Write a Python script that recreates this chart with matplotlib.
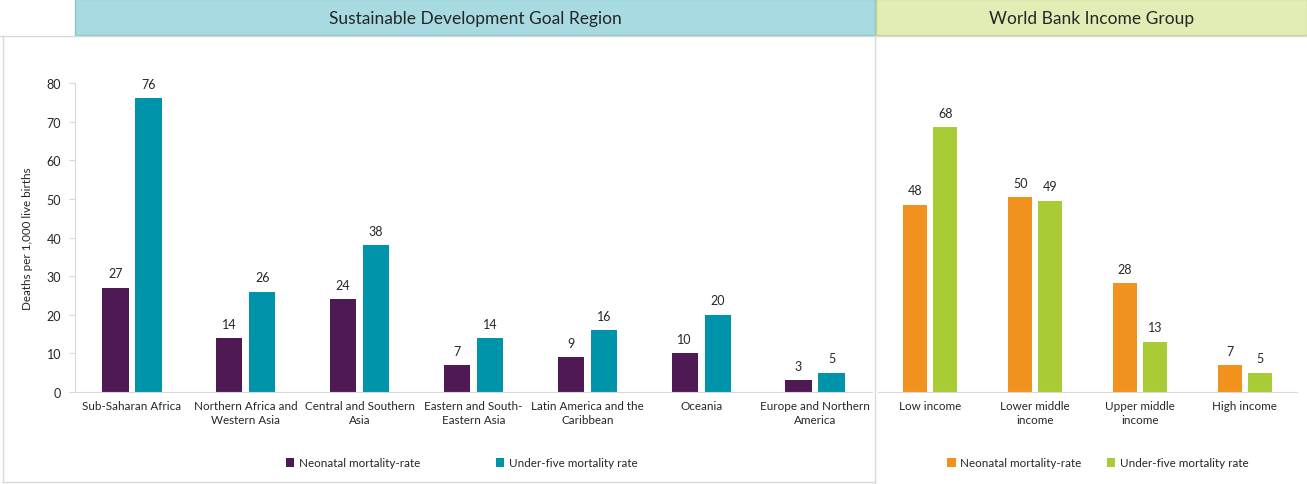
import matplotlib
matplotlib.use("Agg")
import matplotlib.pyplot as plt
from matplotlib.patches import Rectangle
from matplotlib.lines import Line2D
import numpy as np

plt.rcParams['font.family'] = ['Lato', 'DejaVu Sans']

# data
sdg_regions = ["Sub-Saharan Africa", "Northern Africa and\nWestern Asia", "Central and Southern\nAsia",
               "Eastern and South-\nEastern Asia", "Latin America and the\nCaribbean", "Oceania",
               "Europe and Northern\nAmerica"]
sdg_neonatal = [27, 14, 24, 7, 9, 10, 3]
sdg_under5 = [76, 26, 38, 14, 16, 20, 5]

income_groups = ["Low income", "Lower middle\nincome", "Upper middle\nincome", "High income"]
inc_neonatal = [48.5, 50.5, 28.2, 7]
inc_under5 = [68.5, 49.5, 13, 5]
inc_neonatal_lbl = [48, 50, 28, 7]
inc_under5_lbl = [68, 49, 13, 5]

W, H = 1307, 485
fig = plt.figure(figsize=(W / 100, H / 100), dpi=100)

def px_axes(x0, y0, x1, y1):
    # pixel box (top-left origin) -> figure axes
    return fig.add_axes([x0 / W, 1 - y1 / H, (x1 - x0) / W, (y1 - y0) / H])

grid_col = "#d9d9d9"
txt_col = "#262626"
fs = 8.4

# background frame + headers
bg = fig.add_axes([0, 0, 1, 1])
bg.set_xlim(0, W)
bg.set_ylim(H, 0)
bg.axis("off")
bg.add_patch(Rectangle((75, 0), 800, 36, facecolor="#a7dbe1", edgecolor="#8cc4cc", lw=1))
bg.add_patch(Rectangle((876, 0), 431, 36, facecolor="#e2edb6", edgecolor="#c5d48e", lw=1))
bg.text(475, 19, "Sustainable Development Goal Region", ha="center", va="center", fontsize=12.5, color=txt_col)
bg.text(1092, 19, "World Bank Income Group", ha="center", va="center", fontsize=12.5, color=txt_col)
bg.add_line(Line2D([0, W], [37, 37], color=grid_col, lw=1))
bg.add_line(Line2D([875, 875], [37, H], color=grid_col, lw=1))
bg.add_line(Line2D([3, 3], [37, 483], color=grid_col, lw=1))
bg.add_line(Line2D([3, 875], [483, 483], color=grid_col, lw=1))

def style(ax, ylabels):
    for s in ["top", "right"]:
        ax.spines[s].set_visible(False)
    ax.spines["bottom"].set_color(grid_col)
    ax.spines["left"].set_color(grid_col)
    ax.set_ylim(0, 80)
    ax.set_yticks(np.arange(0, 81, 10))
    ax.tick_params(axis="x", length=0, pad=6, labelsize=fs, colors=txt_col)
    ax.tick_params(axis="y", length=4, color=grid_col, labelsize=9, colors=txt_col, pad=6)
    if not ylabels:
        ax.spines["left"].set_visible(False)
        ax.set_yticks([])
    ax.patch.set_alpha(0)

# left panel
ax1 = px_axes(75, 84, 872, 393)
x1 = np.arange(len(sdg_regions))
w = 0.23
b1 = ax1.bar(x1 - 0.145, sdg_neonatal, w, color="#4f1a53", label="Neonatal mortality-rate")
b2 = ax1.bar(x1 + 0.145, sdg_under5, w, color="#0094aa", label="Under-five mortality rate")
ax1.bar_label(b1, padding=6, fontsize=9, color=txt_col)
ax1.bar_label(b2, padding=6, fontsize=9, color=txt_col)
ax1.set_xlim(-0.5, len(sdg_regions) - 0.5)
ax1.set_xticks(x1)
ax1.set_xticklabels(sdg_regions, linespacing=1.35)
style(ax1, True)
ax1.set_ylabel("Deaths per 1,000 live births", fontsize=fs, color=txt_col, labelpad=10)
ax1.legend(loc="center", bbox_to_anchor=(462 / W, 1 - 464 / H), bbox_transform=fig.transFigure,
           ncol=2, frameon=False, fontsize=fs, handlelength=0.7, handleheight=0.7,
           handletextpad=0.4, columnspacing=6.5, labelcolor=txt_col)

# right panel
ax2 = px_axes(878, 84, 1297, 393)
x2 = np.arange(len(income_groups))
b3 = ax2.bar(x2 - 0.143, inc_neonatal, w, color="#f1921f", label="Neonatal mortality-rate")
b4 = ax2.bar(x2 + 0.143, inc_under5, w, color="#a9cc36", label="Under-five mortality rate")
ax2.bar_label(b3, labels=[str(v) for v in inc_neonatal_lbl], padding=6, fontsize=9, color=txt_col)
ax2.bar_label(b4, labels=[str(v) for v in inc_under5_lbl], padding=6, fontsize=9, color=txt_col)
ax2.set_xlim(-0.5, len(income_groups) - 0.5)
ax2.set_xticks(x2)
ax2.set_xticklabels(income_groups, linespacing=1.35)
style(ax2, False)
ax2.legend(loc="center", bbox_to_anchor=(1098 / W, 1 - 464 / H), bbox_transform=fig.transFigure,
           ncol=2, frameon=False, fontsize=fs, handlelength=0.7, handleheight=0.7,
           handletextpad=0.4, columnspacing=2.2, labelcolor=txt_col)

fig.savefig("out.png", dpi=100)
